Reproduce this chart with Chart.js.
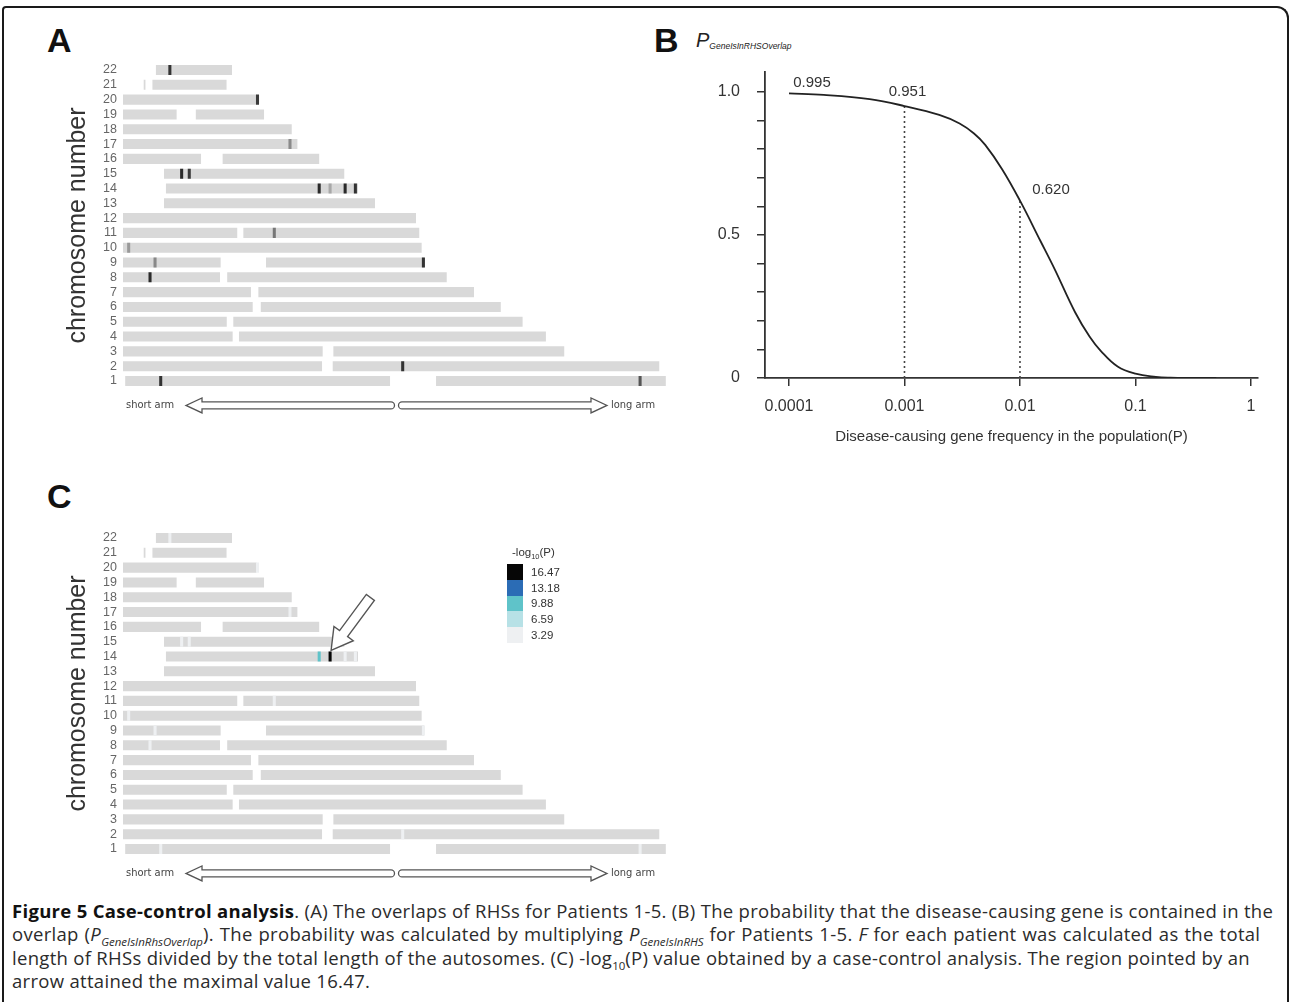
<!DOCTYPE html>
<html>
<head>
<meta charset="utf-8">
<script src="https://cdn.jsdelivr.net/npm/chart.js@4.4.1/dist/chart.umd.min.js"></script>
<style>
  body { margin: 0; background: #fff; width: 1292px; height: 1002px; overflow: hidden; position: relative; font-family: "Liberation Sans", Arial, sans-serif; }
  #frame { position: absolute; left: 2px; top: 6px; width: 1283px; height: 1000px; border: 2px solid #1a1a1a; border-bottom: none; border-radius: 4px 12px 0 0; }
  canvas { position: absolute; }
  .letter { position: absolute; font: bold 34px "Liberation Sans", Arial, sans-serif; line-height: 1; color: #111; }
  #ylabB { position: absolute; left: 696px; top: 30px; font: italic 20px "Liberation Sans", Arial, sans-serif; line-height: 1; color: #222; }
  #ylabB sub { font-size: 8.5px; vertical-align: -2px; }
  #legendC { position: absolute; left: 507px; top: 546px; font: 11.5px "Liberation Sans", Arial, sans-serif; color: #333; }
  #legendC .ttl { margin-left: 5px; height: 18px; }
  #legendC .ttl sub { font-size: 7.5px; }
  #legendC .row { height: 15.8px; display: flex; align-items: center; }
  #legendC .sw { width: 16px; height: 15.8px; margin-right: 8px; }
  #caption { position: absolute; left: 12px; top: 899px; font: 18.5px "Open Sans", Lato, sans-serif; letter-spacing: 0.3px; color: #2b2b2b; }
  #caption div { height: 23.4px; line-height: 23.4px; white-space: nowrap; }
  #caption b { color: #111; }
  #caption sub { font-size: 11.5px; line-height: 0; letter-spacing: 0; }
</style>
</head>
<body>
<div id="frame"></div>

<div class="letter" style="left:47px; top:23px">A</div>
<div class="letter" style="left:654px; top:23px">B</div>
<div class="letter" style="left:47px; top:479px">C</div>
<div id="ylabB">P<sub>GeneIsInRHSOverlap</sub></div>

<canvas id="chartA" width="690" height="430" style="left:0; top:0"></canvas>
<canvas id="chartB" width="650" height="460" style="left:640px; top:0"></canvas>
<canvas id="chartC" width="690" height="430" style="left:0; top:468px"></canvas>

<div id="legendC"></div>

<div id="caption">
  <div><b>Figure 5 Case-control analysis</b>. (A) The overlaps of RHSs for Patients 1-5. (B) The probability that the disease-causing gene is contained in the</div>
  <div style="word-spacing:0.8px">overlap (<i>P<sub>GeneIsInRhsOverlap</sub></i>). The probability was calculated by multiplying <i>P<sub>GeneIsInRHS</sub></i> for Patients 1-5. <i>F</i> for each patient was calculated as the total</div>
  <div>length of RHSs divided by the total length of the autosomes. (C) -log<sub>10</sub>(P) value obtained by a case-control analysis. The region pointed by an</div>
  <div>arrow attained the maximal value 16.47.</div>
</div>

<script>
// chromosomes, top row first (Mb positions)
const chromosomes = ['22','21','20','19','18','17','16','15','14','13','12','11','10','9','8','7','6','5','4','3','2','1'];
const segment1 = [[15.1,50.0],[9.5,10.3],[0,61.2],[0,24.6],[0,77.4],[0,80.0],[0,35.8],[18.8,101.5],[19.7,107.8],[18.8,115.6],
  [0,134.4],[0,52.4],[0,137.0],[0,44.8],[0,44.5],[0,58.7],[0,59.5],[0,47.6],[0,50.3],[0,91.6],[0,91.3],[1.0,122.5]];
const segment2 = [null,[13.5,47.5],null,[33.4,64.7],null,null,[45.7,90.0],null,null,null,
  null,[55.2,135.9],null,[65.6,138.2],[47.8,148.5],[62.1,161.0],[63.2,173.3],[50.6,183.3],[53.2,194.0],[96.5,202.4],[96.2,246.0],[143.6,249.0]];

// overlap marks: chromosome, position (Mb), shade in A, -log10(P) in C
const markChrom = ['22','20','17','15','15','14','14','14','14','11','10','9','9','8','2','1','1'];
const markPos   = [21.5,61.7,76.6,26.9,30.4,90.0,95.0,101.9,106.6,69.4,2.6,14.7,137.8,12.4,128.3,17.3,237.2];
const markShadeA = ['#333','#3a3a3a','#8a8a8a','#2a2a2a','#3a3a3a','#2a2a2a','#a8a8a8','#2a2a2a','#333','#777','#999','#888','#333','#2a2a2a','#333','#333','#555'];
const markLevelC = [3.29,3.29,3.29,3.29,3.29,9.88,16.47,3.29,3.29,3.29,3.29,3.29,3.29,3.29,3.29,3.29,3.29];

const levelValues = [16.47, 13.18, 9.88, 6.59, 3.29];
const levelColors = ['#060606', '#2b6cb5', '#5fc3c9', '#b7e1e6', '#eef0f2'];

// panel B
const freqP = [0.0001,0.0002,0.0005,0.001,0.002,0.003,0.004,0.005,0.007,0.01,0.015,0.02,0.03,0.04,0.05,0.07,0.1,0.15,0.2,0.3,0.5];
const overlapProb = [0.995,0.990,0.975,0.951,0.920,0.890,0.855,0.815,0.730,0.620,0.480,0.380,0.230,0.145,0.095,0.040,0.015,0.004,0.001,0,0];
const annotP = [0.0001, 0.001, 0.01];
const annotProb = [0.995, 0.951, 0.620];
const freqTicks = [0.0001, 0.001, 0.01, 0.1, 1];
const probTicks = [0,0.1,0.2,0.3,0.4,0.5,0.6,0.7,0.8,0.9,1.0];
const probTickLabels = ['0','','','','','0.5','','','','','1.0'];

const annotOffsets = [[23,-11],[3,-14],[31,-11]];

function levelColor(v) {
  return levelColors[levelValues.indexOf(v)];
}

function hollowArrow(ctx, tail, tip, y) {
  const d = tip > tail ? 1 : -1;
  const head = tip - d * 16;
  ctx.beginPath();
  ctx.moveTo(tail, y - 3.5);
  ctx.lineTo(head, y - 3.5);
  ctx.lineTo(head, y - 7.5);
  ctx.lineTo(tip, y);
  ctx.lineTo(head, y + 7.5);
  ctx.lineTo(head, y + 3.5);
  ctx.lineTo(tail, y + 3.5);
  ctx.arc(tail, y, 3.5, Math.PI / 2, -Math.PI / 2, d < 0);
  ctx.closePath();
  ctx.stroke();
}

const armArrows = {
  id: 'armArrows',
  afterDraw(chart) {
    const ctx = chart.ctx, a = chart.chartArea;
    const y = a.bottom + 17;
    ctx.save();
    ctx.strokeStyle = '#555';
    ctx.lineWidth = 1.3;
    hollowArrow(ctx, a.left + 268, a.left + 63, y);
    hollowArrow(ctx, a.left + 279, a.left + 484, y);
    ctx.fillStyle = '#444';
    ctx.font = '11px "DejaVu Sans Condensed", "Liberation Sans", sans-serif';
    ctx.textBaseline = 'middle';
    ctx.fillText('short arm', a.left + 3, y);
    ctx.fillText('long arm', a.left + 488, y);
    ctx.restore();
  }
};

// arrow pointing at the maximal -log10(P) region in C
const pointer = {
  id: 'pointer',
  afterDraw(chart) {
    const k = markLevelC.indexOf(Math.max(...markLevelC));
    const tx = chart.scales.x.getPixelForValue(markPos[k]) + 1;
    const ty = chart.scales.y.getPixelForValue(chromosomes.indexOf(markChrom[k])) - 6;
    const ctx = chart.ctx;
    ctx.save();
    ctx.translate(tx, ty);
    ctx.rotate(Math.atan2(-50, 37));
    ctx.beginPath();
    ctx.moveTo(0, 0);
    ctx.lineTo(21, 12);
    ctx.lineTo(21, 5);
    ctx.lineTo(66, 5);
    ctx.lineTo(66, -5);
    ctx.lineTo(21, -5);
    ctx.lineTo(21, -12);
    ctx.closePath();
    ctx.fillStyle = '#fff';
    ctx.fill();
    ctx.strokeStyle = '#555';
    ctx.lineWidth = 1.4;
    ctx.stroke();
    ctx.restore();
  }
};

function chromChart(id, markColors, extra) {
  const segs = [];
  chromosomes.forEach((c, i) => {
    segs.push({ y: c, x: segment1[i] });
    if (segment2[i]) segs.push({ y: c, x: segment2[i] });
  });
  const marks = markChrom.map((c, k) => ({ y: c, x: [markPos[k] - 0.7, markPos[k] + 0.7] }));

  return new Chart(document.getElementById(id), {
    type: 'bar',
    data: {
      labels: chromosomes,
      datasets: [
        { data: marks, backgroundColor: markColors, grouped: false, barPercentage: 1, categoryPercentage: 0.68, order: 0 },
        { data: segs, backgroundColor: '#d9d9d9', grouped: false, barPercentage: 1, categoryPercentage: 0.68, order: 1 }
      ]
    },
    options: {
      responsive: false,
      animation: false,
      indexAxis: 'y',
      layout: { padding: { left: 59, top: 62.6, right: 22, bottom: 41.6 } },
      plugins: { legend: { display: false }, tooltip: { enabled: false } },
      scales: {
        x: { type: 'linear', min: 0, max: 250, display: false },
        y: {
          type: 'category',
          offset: true,
          grid: { display: false, drawTicks: false },
          border: { display: false },
          ticks: { color: '#666', padding: 6, autoSkip: false, font: { size: 12.5, family: '"Liberation Sans", Arial, sans-serif' } },
          title: { display: true, text: 'chromosome number', color: '#333', padding: { top: 4, bottom: 0 },
                   font: { size: 25, family: '"Liberation Sans", Arial, sans-serif' } },
          afterFit: s => { s.width = 64; }
        }
      }
    },
    plugins: [armArrows].concat(extra)
  });
}

chromChart('chartA', markShadeA, []);
chromChart('chartC', markLevelC.map(levelColor), [pointer]);

// legend for C
const legendC = document.getElementById('legendC');
let html = '<div class="ttl">-log<sub>10</sub>(P)</div>';
levelValues.forEach((v, i) => {
  html += '<div class="row"><div class="sw" style="background:' + levelColors[i] + '"></div>' + v.toFixed(2) + '</div>';
});
legendC.innerHTML = html;

const probLabels = {
  id: 'probLabels',
  afterDatasetsDraw(chart) {
    const ctx = chart.ctx, xs = chart.scales.x, ys = chart.scales.y;
    ctx.save();
    ctx.fillStyle = '#333';
    ctx.font = '15px "Liberation Sans", Arial, sans-serif';
    ctx.textAlign = 'center';
    ctx.textBaseline = 'middle';
    annotP.forEach((p, i) => {
      ctx.fillText(annotProb[i].toFixed(3), xs.getPixelForValue(p) + annotOffsets[i][0], ys.getPixelForValue(annotProb[i]) + annotOffsets[i][1]);
    });
    ctx.restore();
  }
};

const dropLines = annotP.filter(p => p > freqTicks[0]).map(p => ({
  data: [{ x: p, y: 0 }, { x: p, y: annotProb[annotP.indexOf(p)] }],
  borderColor: '#444', borderWidth: 1.6, borderDash: [2, 3], pointRadius: 0, showLine: true
}));

const axisFont = { size: 16, family: '"Liberation Sans", Arial, sans-serif' };

new Chart(document.getElementById('chartB'), {
  type: 'scatter',
  data: {
    datasets: [
      { data: freqP.map((p, i) => ({ x: p, y: overlapProb[i] })), showLine: true, borderColor: '#222', borderWidth: 1.8,
        pointRadius: 0, tension: 0.4 }
    ].concat(dropLines)
  },
  options: {
    responsive: false,
    animation: false,
    layout: { padding: { left: 0, top: 72, right: 32, bottom: 0 } },
    plugins: { legend: { display: false }, tooltip: { enabled: false } },
    scales: {
      x: {
        type: 'logarithmic', min: 0.000062, max: 1.15,
        grid: { drawOnChartArea: false, tickLength: 8, color: '#333', lineWidth: 1.5 },
        border: { color: '#333', width: 1.8 },
        afterBuildTicks: s => { s.ticks = freqTicks.map(v => ({ value: v })); },
        ticks: { color: '#333', padding: 11, font: axisFont, callback: v => String(v) },
        title: { display: true, text: 'Disease-causing gene frequency in the population(P)', color: '#333',
                 padding: { top: 4, bottom: 14 }, font: { size: 15, family: '"Liberation Sans", Arial, sans-serif' } },
        afterFit: s => { s.height = 82; }
      },
      y: {
        type: 'linear', min: 0, max: 1.07,
        grid: { drawOnChartArea: false, tickLength: 8, color: '#333', lineWidth: 1.5 },
        border: { color: '#333', width: 1.8 },
        afterBuildTicks: s => { s.ticks = probTicks.map(v => ({ value: v })); },
        ticks: { color: '#333', padding: 17, font: axisFont, callback: (v, i) => probTickLabels[i] },
        afterFit: s => { s.width = 125; }
      }
    }
  },
  plugins: [probLabels]
});
</script>
</body>
</html>
